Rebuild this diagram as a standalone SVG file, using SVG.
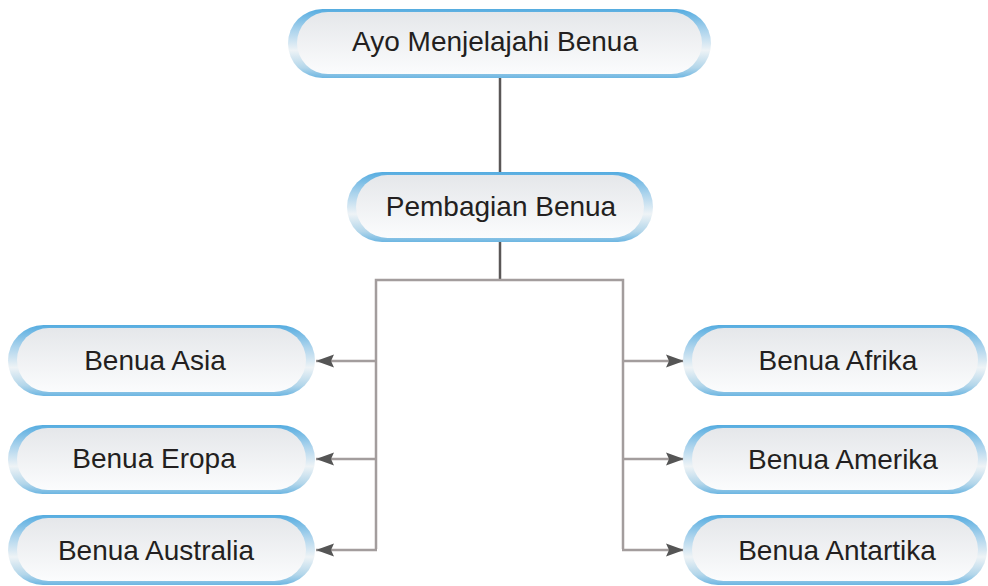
<svg xmlns="http://www.w3.org/2000/svg" width="988" height="586" viewBox="0 0 988 586">
<style>
  .rim { fill: url(#rim); }
  .face { fill: url(#face); }
  .lbl { font-family: "Liberation Sans", Arial, sans-serif; font-size: 28px; fill: #231f20; text-anchor: middle; }
  .trunk { stroke: #5a5757; stroke-width: 2.5; fill: none; }
  .branch { stroke: #a39d9d; stroke-width: 2.5; fill: none; }
</style>
<defs>
  <linearGradient id="rim" x1="0" y1="0" x2="0" y2="1">
    <stop offset="0" stop-color="#55ace0"/>
    <stop offset="0.3" stop-color="#a9d2ec"/>
    <stop offset="0.6" stop-color="#eef3f6"/>
    <stop offset="0.85" stop-color="#b3d6ea"/>
    <stop offset="1" stop-color="#6db6e2"/>
  </linearGradient>
  <linearGradient id="face" x1="0" y1="0" x2="0" y2="1">
    <stop offset="0" stop-color="#e5e7ea"/>
    <stop offset="1" stop-color="#fbfcfd"/>
  </linearGradient>
  <marker id="ah" markerWidth="20" markerHeight="16" refX="18" refY="8" orient="auto" markerUnits="userSpaceOnUse">
    <path d="M0,1.5 L18,8 L0,14.5 L3,8 Z" fill="#555555"/>
  </marker>
</defs>

<g id="connectors">
  <line class="trunk" x1="500" y1="77" x2="500" y2="173"/>
  <line class="trunk" x1="500" y1="241" x2="500" y2="281"/>
  <polyline class="branch" points="376,549 376,280 623,280 623,549"/>
  <line class="branch" x1="376" y1="361" x2="316" y2="361" marker-end="url(#ah)"/>
  <line class="branch" x1="376" y1="459" x2="316" y2="459" marker-end="url(#ah)"/>
  <line class="branch" x1="377" y1="550" x2="316" y2="550" marker-end="url(#ah)"/>
  <line class="branch" x1="623" y1="361" x2="684" y2="361" marker-end="url(#ah)"/>
  <line class="branch" x1="623" y1="459" x2="684" y2="459" marker-end="url(#ah)"/>
  <line class="branch" x1="622" y1="550" x2="684" y2="550" marker-end="url(#ah)"/>
</g>

<g id="node-top">
  <rect class="rim" x="288" y="9" width="423" height="69" rx="34.5"/>
  <rect class="face" x="297" y="12" width="405" height="62" rx="31"/>
  <text class="lbl" x="495" y="51">Ayo Menjelajahi Benua</text>
</g>
<g id="node-pembagian">
  <rect class="rim" x="347" y="172" width="306" height="70" rx="35"/>
  <rect class="face" x="356" y="175" width="288" height="63" rx="31.5"/>
  <text class="lbl" x="501" y="216">Pembagian Benua</text>
</g>
<g id="node-asia">
  <rect class="rim" x="8" y="325" width="307" height="71" rx="35.5"/>
  <rect class="face" x="17" y="328" width="289" height="64" rx="32"/>
  <text class="lbl" x="155" y="370">Benua Asia</text>
</g>
<g id="node-eropa">
  <rect class="rim" x="8" y="425" width="307" height="69" rx="34.5"/>
  <rect class="face" x="17" y="428" width="289" height="62" rx="31"/>
  <text class="lbl" x="154" y="468">Benua Eropa</text>
</g>
<g id="node-australia">
  <rect class="rim" x="8" y="515" width="307" height="70" rx="35"/>
  <rect class="face" x="17" y="518" width="289" height="63" rx="31.5"/>
  <text class="lbl" x="156" y="560">Benua Australia</text>
</g>
<g id="node-afrika">
  <rect class="rim" x="683" y="325" width="304" height="71" rx="35.5"/>
  <rect class="face" x="692" y="328" width="286" height="64" rx="32"/>
  <text class="lbl" x="838" y="370">Benua Afrika</text>
</g>
<g id="node-amerika">
  <rect class="rim" x="683" y="425" width="304" height="69" rx="34.5"/>
  <rect class="face" x="692" y="428" width="286" height="62" rx="31"/>
  <text class="lbl" x="843" y="469">Benua Amerika</text>
</g>
<g id="node-antartika">
  <rect class="rim" x="683" y="515" width="304" height="70" rx="35"/>
  <rect class="face" x="692" y="518" width="286" height="63" rx="31.5"/>
  <text class="lbl" x="837" y="560">Benua Antartika</text>
</g>
</svg>
